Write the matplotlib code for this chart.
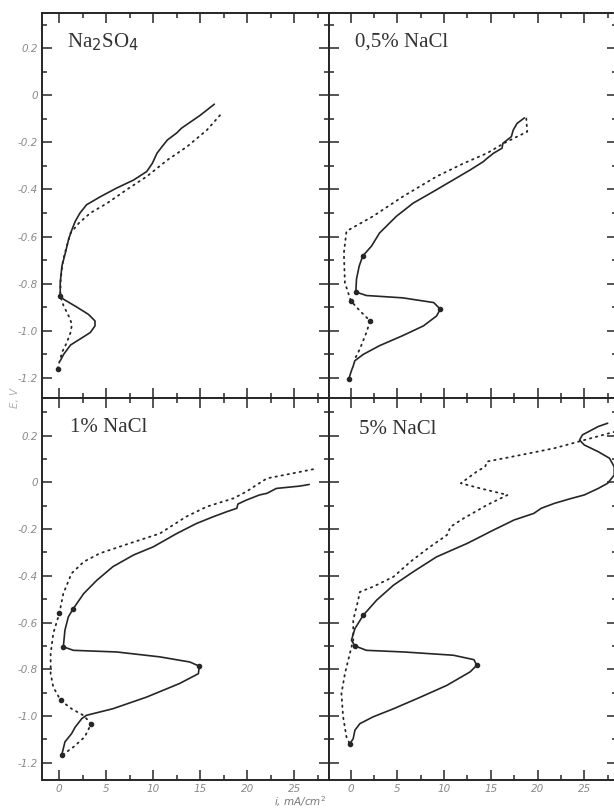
import matplotlib.pyplot as plt
from matplotlib.ticker import MultipleLocator

W, H = 614, 810

# potential E (V) vs current density i (mA/cm2)
# solid = first sweep, dotted = second sweep, marks = small dots on the curves
na2so4_solid_i = [16.5, 15.0, 13.0, 12.5, 11.5, 10.9, 10.4, 9.9, 9.3, 7.9, 6.1, 4.4, 2.9, 2.2, 1.7, 1.35,
                  1.0, 0.64, 0.28, 0.1, 0.1, 0.46, 1.9, 3.1, 3.8, 3.8, 3.3, 2.2, 1.2, 0.46, 0.1]
na2so4_solid_e = [-0.038, -0.085, -0.14, -0.16, -0.19, -0.22, -0.246, -0.289, -0.324, -0.36, -0.394, -0.43,
                  -0.465, -0.5, -0.535, -0.57, -0.61, -0.67, -0.725, -0.795, -0.852, -0.866, -0.9, -0.93,
                  -0.958, -0.979, -1.007, -1.035, -1.06, -1.1, -1.127]
na2so4_dot_i = [17.1, 15.7, 13.6, 11.5, 9.3, 7.2, 5.1, 3.3, 2.1, 1.2, 0.8, 0.4, 0.15, 0.1, 0.46, 1.0, 1.35,
                1.2, 0.8, 0.3, -0.18]
na2so4_dot_e = [-0.085, -0.148, -0.218, -0.275, -0.345, -0.4, -0.458, -0.5, -0.542, -0.585, -0.64, -0.7,
                -0.78, -0.852, -0.894, -0.937, -0.972, -1.007, -1.05, -1.09, -1.16]
na2so4_mark_i = [0.1, -0.18]
na2so4_mark_e = [-0.852, -1.16]

nacl05_solid_i = [18.6, 17.8, 17.4, 17.2, 16.3, 16.2, 15.3, 14.6, 14.2, 12.8, 11.0, 8.9, 6.7, 4.9, 3.1, 2.25,
                  1.3, 0.93, 0.64, 0.57, 1.7, 5.6, 8.9, 9.6, 9.2, 7.8, 5.6, 3.1, 1.36, 0.46, 0.3, 0.1, -0.18]
nacl05_solid_e = [-0.096, -0.12, -0.148, -0.176, -0.204, -0.225, -0.246, -0.268, -0.282, -0.317, -0.359,
                  -0.408, -0.458, -0.514, -0.585, -0.64, -0.683, -0.725, -0.78, -0.835, -0.85, -0.86, -0.88,
                  -0.908, -0.937, -0.979, -1.02, -1.063, -1.1, -1.127, -1.148, -1.169, -1.204]
nacl05_dot_i = [18.8, 18.9, 17.8, 16.4, 14.6, 12.1, 9.2, 5.6, 2.4, -0.43, -0.71, -0.6, 0.04, 1.0, 2.1, 1.7,
                1.0, 0.46]
nacl05_dot_e = [-0.099, -0.155, -0.176, -0.204, -0.246, -0.289, -0.345, -0.43, -0.514, -0.577, -0.67, -0.796,
                -0.873, -0.915, -0.958, -1.007, -1.077, -1.12]
nacl05_mark_i = [1.3, 0.57, 9.6, -0.18, 0.04, 2.1]
nacl05_mark_e = [-0.683, -0.835, -0.908, -1.204, -0.873, -0.958]

nacl1_solid_i = [26.6, 25.6, 23.1, 22.1, 21.3, 19.9, 19.0, 18.9, 17.8, 16.4, 14.6, 12.5, 10.0, 7.9, 5.7, 4.0,
                 2.6, 1.5, 0.96, 0.6, 0.43, 1.5, 6.1, 10.7, 13.9, 14.9, 14.8, 12.8, 9.3, 5.7, 2.9, 2.4, 1.7,
                 1.3, 0.6, 0.25]
nacl1_solid_e = [-0.009, -0.016, -0.026, -0.047, -0.054, -0.076, -0.093, -0.111, -0.126, -0.147, -0.176,
                 -0.219, -0.276, -0.311, -0.361, -0.419, -0.476, -0.54, -0.576, -0.633, -0.704, -0.719,
                 -0.726, -0.747, -0.769, -0.787, -0.819, -0.861, -0.919, -0.969, -0.997, -1.011, -1.047,
                 -1.076, -1.111, -1.169]
nacl1_dot_i = [27.0, 24.9, 22.1, 21.0, 19.9, 18.5, 15.7, 13.5, 10.7, 7.5, 4.3, 2.6, 1.3, 0.43, 0.0, -0.64,
               -0.92, -0.92, -0.64, 0.14, 1.3, 2.55, 3.4, 2.7, 1.5, 0.25]
nacl1_dot_e = [0.056, 0.039, 0.017, -0.011, -0.04, -0.069, -0.104, -0.147, -0.219, -0.261, -0.304, -0.34,
               -0.39, -0.476, -0.561, -0.647, -0.733, -0.819, -0.876, -0.933, -0.969, -0.997, -1.033, -1.09,
               -1.133, -1.169]
nacl1_mark_i = [1.5, 0.43, 14.9, 0.25, 0.0, 0.14, 3.4]
nacl1_mark_e = [-0.54, -0.704, -0.787, -1.169, -0.561, -0.933, -1.033]

nacl5_solid_i = [27.5, 26.5, 24.8, 24.5, 25.0, 26.5, 27.7, 28.2, 28.2, 27.5, 26.5, 25.0, 23.6, 21.8, 20.4,
                 19.6, 17.5, 15.3, 12.5, 9.2, 6.7, 4.6, 2.8, 1.36, 0.47, 0.1, 0.47, 1.7, 5.7, 11.0, 13.2,
                 13.5, 12.8, 10.3, 7.5, 4.6, 2.4, 1.0, 0.47, 0.29, -0.07]
nacl5_solid_e = [0.253, 0.239, 0.203, 0.181, 0.16, 0.131, 0.103, 0.067, 0.031, -0.004, -0.026, -0.054,
                 -0.069, -0.09, -0.111, -0.133, -0.161, -0.204, -0.261, -0.319, -0.383, -0.44, -0.504,
                 -0.569, -0.626, -0.676, -0.7, -0.719, -0.726, -0.74, -0.759, -0.783, -0.811, -0.869,
                 -0.919, -0.969, -1.004, -1.033, -1.061, -1.097, -1.119]
nacl5_dot_i = [28.3, 25.0, 21.8, 18.2, 14.6, 14.4, 13.5, 11.8, 13.9, 16.8, 14.6, 12.1, 10.7, 10.3, 8.5, 6.4,
               4.6, 2.4, 1.0, 0.82, 0.29, 0.29, -0.07, -0.6, -0.97, -0.79, -0.43, -0.07]
nacl5_dot_e = [0.217, 0.181, 0.146, 0.117, 0.089, 0.067, 0.046, -0.004, -0.026, -0.054, -0.097, -0.154,
               -0.19, -0.226, -0.276, -0.34, -0.404, -0.447, -0.469, -0.504, -0.59, -0.676, -0.733, -0.819,
               -0.904, -1.004, -1.09, -1.119]
nacl5_mark_i = [1.36, 0.47, 13.5, -0.07]
nacl5_mark_e = [-0.569, -0.7, -0.783, -1.119]

panel_titles = ["Na$_2$SO$_4$", "0,5% NaCl", "1% NaCl", "5% NaCl"]
e_ticks = [-1.2, -1.0, -0.8, -0.6, -0.4, -0.2, 0.0, 0.2]
e_ticklabels = ["-1.2", "-1.0", "-0.8", "-0.6", "-0.4", "-0.2", "0", "0.2"]
i_ticks = [0, 5, 10, 15, 20, 25]
i_ticklabels = ["0", "5", "10", "15", "20", "25"]

panels = [
    (na2so4_solid_i, na2so4_solid_e, na2so4_dot_i, na2so4_dot_e, na2so4_mark_i, na2so4_mark_e),
    (nacl05_solid_i, nacl05_solid_e, nacl05_dot_i, nacl05_dot_e, nacl05_mark_i, nacl05_mark_e),
    (nacl1_solid_i, nacl1_solid_e, nacl1_dot_i, nacl1_dot_e, nacl1_mark_i, nacl1_mark_e),
    (nacl5_solid_i, nacl5_solid_e, nacl5_dot_i, nacl5_dot_e, nacl5_mark_i, nacl5_mark_e),
]

INK = "#262626"
GREY = "#8a8a8a"


def px_box(x0, y0, x1, y1):
    # pixel box (top-left origin) -> figure fraction rect
    return [x0 / W, 1 - y1 / H, (x1 - x0) / W, (y1 - y0) / H]


fig = plt.figure(figsize=(W / 100, H / 100), dpi=100)
boxes = [px_box(42, 13, 329, 398), px_box(329, 13, 617, 398),
         px_box(42, 398, 329, 780), px_box(329, 398, 617, 780)]
xlims = [(-1.84, 28.7), (-2.3, 28.5), (-1.84, 28.7), (-2.3, 28.5)]
ylims = [(-1.285, 0.349), (-1.285, 0.349), (-1.274, 0.361), (-1.274, 0.361)]
title_pos = [(67, 42), (355, 42), (70, 427), (359, 429)]

for k, (si, se, di, de, mi, me) in enumerate(panels):
    ax = fig.add_axes(boxes[k])
    ax.plot(si, se, color=INK, lw=1.2, solid_capstyle="round")
    ax.plot(di, de, color=INK, lw=1.3, linestyle=(0, (0.8, 2.6)), dash_capstyle="round")
    ax.plot(mi, me, "o", color=INK, ms=3)
    ax.set_xlim(*xlims[k])
    ax.set_ylim(*ylims[k])

    ax.set_xticks(i_ticks, labels=i_ticklabels)
    ax.set_yticks(e_ticks, labels=e_ticklabels)
    ax.xaxis.set_minor_locator(MultipleLocator(2.5))
    ax.yaxis.set_minor_locator(MultipleLocator(0.1))
    ax.tick_params(which="both", direction="in", top=True, right=True, color=INK, width=1.1,
                   labelsize=7.5, labelcolor=GREY, pad=3,
                   labelleft=(k % 2 == 0), labelbottom=(k >= 2))
    ax.tick_params(which="major", length=7)
    ax.tick_params(which="minor", length=3.5)
    for lab in ax.get_xticklabels() + ax.get_yticklabels():
        lab.set_fontstyle("italic")
    for sp in ax.spines.values():
        sp.set_linewidth(1.4)
        sp.set_color(INK)

    tx, ty = title_pos[k]
    fig.text(tx / W, 1 - ty / H, panel_titles[k], family="Liberation Serif", fontsize=15,
             color="#333333", va="center", ha="left")

fig.text(15 / W, 1 - 398 / H, "E, V", rotation=90, fontsize=7.5, color="#b0b0b0",
         style="italic", ha="center", va="center")
fig.text(300 / W, 1 - 806 / H, "i, mA/cm$^2$", fontsize=7.5, color="#777777", style="italic",
         ha="center", va="baseline")

fig.savefig("out.png", dpi=100, facecolor="white")
